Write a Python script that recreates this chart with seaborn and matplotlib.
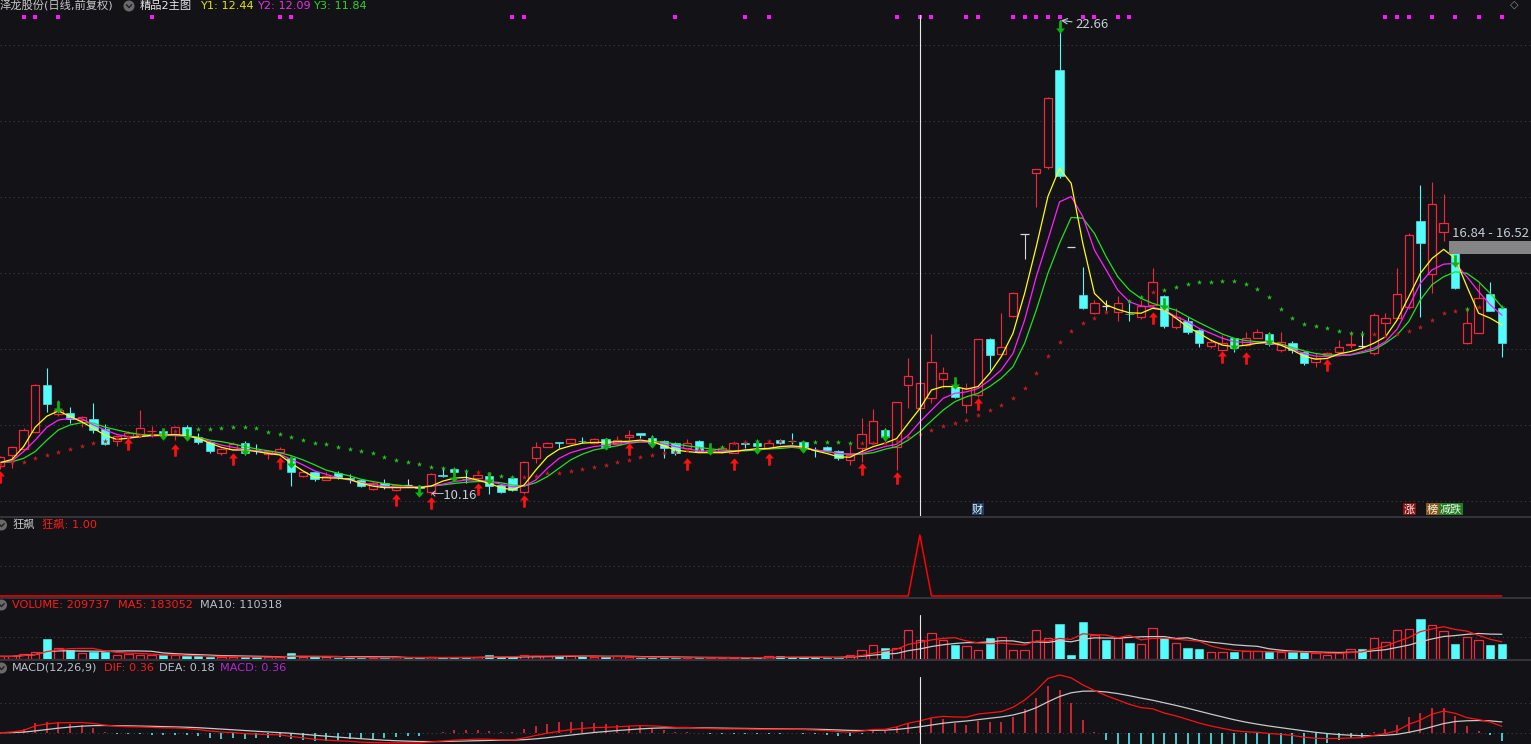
import numpy as np
import pandas as pd
import matplotlib
matplotlib.use("Agg")
import matplotlib.pyplot as plt
from matplotlib.path import Path
from matplotlib.patches import Rectangle, Ellipse
from matplotlib.lines import Line2D
import matplotlib.transforms as mtransforms
import seaborn as sns

# ---------------- data ----------------
open_ = [10.93,11.23,11.37,11.83,13.06,12.30,12.32,12.14,12.17,11.89,
         11.59,11.72,11.74,11.84,11.86,11.74,11.95,11.70,11.57,11.28,
         11.38,11.53,11.35,11.24,11.31,11.13,10.67,10.76,10.56,10.75,
         10.61,10.56,10.33,10.49,10.30,10.42,10.40,10.25,10.68,10.85,
         10.59,10.61,10.67,10.43,10.61,10.25,11.15,11.44,11.55,11.54,
         11.60,11.54,11.64,11.51,11.70,11.79,11.67,11.59,11.53,11.41,
         11.59,11.32,11.30,11.28,11.53,11.53,11.39,11.61,11.60,11.57,
         11.36,11.44,11.33,11.09,11.40,11.53,11.88,11.44,13.06,12.45,
         12.71,13.21,13.02,12.53,12.80,14.26,13.88,14.88,17.03,18.65,
         18.81,21.35,16.68,15.43,14.95,15.15,14.99,14.94,14.84,15.17,
         15.40,14.58,14.75,14.51,14.09,13.98,14.29,14.11,14.31,14.40,
         13.98,14.16,13.94,13.67,13.85,13.94,14.11,14.09,13.89,14.70,
         14.82,15.11,17.38,15.97,17.09,16.53,14.16,14.44,15.45,15.08]
high = [11.20,11.45,11.94,13.10,13.51,12.67,12.49,12.25,12.59,12.03,
        11.75,11.85,12.40,11.98,11.90,11.98,12.00,11.81,11.60,11.40,
        11.55,11.59,11.50,11.35,11.44,11.15,10.80,10.78,10.78,10.80,
        10.72,10.60,10.50,10.59,10.46,10.59,10.42,10.75,10.88,10.88,
        10.76,10.72,10.70,10.45,10.63,11.05,11.56,11.57,11.56,11.67,
        11.70,11.66,11.66,11.72,11.88,11.81,11.74,11.62,11.55,11.64,
        11.62,11.40,11.42,11.56,11.59,11.56,11.58,11.63,11.79,11.60,
        11.44,11.46,11.35,11.48,12.18,12.42,11.94,12.62,13.76,13.17,
        14.39,13.54,13.05,13.11,14.26,14.30,14.95,15.50,17.03,18.75,
        20.65,22.66,16.68,16.16,15.30,15.30,15.40,15.21,15.30,16.13,
        15.42,15.08,14.86,14.53,14.26,14.38,14.31,14.46,14.53,14.45,
        14.45,14.22,13.96,13.91,13.93,14.24,14.45,14.48,14.95,14.95,
        16.13,17.05,18.32,18.39,18.09,16.61,15.12,15.74,15.76,15.10]
low = [10.85,10.88,11.35,11.80,12.36,12.25,12.07,11.96,11.81,11.48,
       11.46,11.65,11.70,11.69,11.75,11.61,11.70,11.50,11.28,11.22,
       11.35,11.22,11.24,11.11,11.28,10.41,10.63,10.54,10.55,10.60,
       10.47,10.37,10.30,10.33,10.28,10.41,10.33,10.16,10.65,10.75,
       10.47,10.58,10.19,10.22,10.28,10.20,11.02,11.42,11.40,11.50,
       11.53,11.52,11.42,11.49,11.62,11.66,11.52,11.14,11.23,11.39,
       11.30,11.28,11.28,11.26,11.39,11.44,11.37,11.50,11.52,11.42,
       11.17,11.33,11.10,10.96,11.04,11.50,11.60,10.82,12.45,12.40,
       12.60,12.97,12.72,12.32,12.75,13.46,13.85,14.85,16.37,17.75,
       18.75,18.50,16.68,15.05,14.93,14.99,14.75,14.75,14.80,15.12,
       14.55,14.54,14.40,14.07,14.03,13.95,13.94,14.08,14.29,14.10,
       13.94,13.91,13.60,13.54,13.82,13.90,14.03,14.03,13.85,14.38,
       14.80,15.05,14.86,15.49,16.86,15.60,14.14,14.42,15.00,13.81]
close = [11.16,11.42,11.88,13.05,12.56,12.40,12.16,12.22,11.88,11.51,
         11.71,11.80,11.92,11.86,11.80,11.95,11.74,11.57,11.33,11.37,
         11.50,11.26,11.34,11.32,11.38,10.78,10.77,10.58,10.67,10.63,
         10.60,10.40,10.47,10.37,10.43,10.42,10.35,10.72,10.67,10.78,
         10.58,10.69,10.40,10.25,10.30,11.04,11.42,11.53,11.54,11.64,
         11.59,11.63,11.44,11.61,11.75,11.74,11.54,11.41,11.28,11.53,
         11.33,11.36,11.40,11.53,11.52,11.46,11.53,11.53,11.59,11.44,
         11.35,11.35,11.13,11.22,11.76,12.12,11.69,12.61,13.30,13.11,
         13.66,13.37,12.75,12.97,14.26,13.85,14.07,15.47,17.03,18.74,
         20.61,18.57,16.68,15.08,15.23,15.15,15.21,14.93,15.14,15.78,
         14.61,14.86,14.46,14.17,14.18,14.17,14.03,14.29,14.45,14.14,
         14.20,13.98,13.63,13.76,13.91,14.05,14.14,14.09,14.90,14.83,
         15.45,17.01,16.79,17.82,17.32,15.61,14.70,15.34,15.02,14.16]
volume = [25800,25800,56100,75100,216500,123400,93100,67300,75100,75100,
          44900,52700,44900,37000,37000,37000,25800,25800,19100,19100,
          19100,19100,19100,19100,19100,67300,19100,19100,14600,11200,
          11200,11200,11200,11200,14600,11200,11200,19100,11200,11200,
          11200,19100,37000,22400,19100,44900,30300,30300,25800,30300,
          25800,19100,19100,25800,19100,11200,11200,11200,11200,11200,
          11200,11200,11200,11200,11200,11200,25800,25800,14600,14600,
          14600,11200,11200,44900,93100,149200,123400,115500,321900,209737,
          283800,209700,153700,142400,97600,235500,243400,97600,97600,321900,
          227700,392600,41500,415000,265800,213100,235500,179500,164900,344300,
          227700,179500,123400,103200,78500,78500,78500,86400,86400,70700,
          70700,70700,70700,59400,41500,59400,108800,112200,227700,187300,
          321900,333100,448600,378000,310700,168200,243400,209700,157000,168200]
y1_line = [11.02,11.10,11.44,11.95,12.24,12.38,12.23,12.09,11.92,11.74,
           11.63,11.66,11.70,11.74,11.74,11.76,11.73,11.66,11.53,11.42,
           11.35,11.35,11.31,11.26,11.22,11.00,10.80,10.63,10.62,10.61,
           10.58,10.47,10.40,10.36,10.36,10.36,10.36,10.40,10.53,10.61,
           10.63,10.56,10.47,10.36,10.30,10.43,10.82,11.17,11.37,11.46,
           11.53,11.55,11.55,11.57,11.58,11.61,11.57,11.46,11.35,11.31,
           11.28,11.28,11.28,11.31,11.35,11.38,11.39,11.44,11.46,11.43,
           11.33,11.26,11.17,11.16,11.31,11.44,11.53,11.65,12.05,12.44,
           12.93,13.02,13.02,12.95,13.02,13.37,13.81,14.42,15.47,16.70,
           18.02,18.76,18.37,16.79,15.47,15.17,15.05,14.96,14.95,15.08,
           15.03,14.82,14.59,14.42,14.24,14.11,14.07,14.11,14.16,14.20,
           14.11,13.98,13.82,13.74,13.76,13.88,13.94,14.03,14.16,14.33,
           14.77,15.38,16.00,16.39,16.63,16.39,15.65,14.95,14.82,14.64]
y2_line = [11.02,11.06,11.31,11.61,11.95,12.14,12.18,12.17,12.01,11.88,
           11.76,11.70,11.70,11.72,11.73,11.74,11.72,11.66,11.57,11.48,
           11.42,11.37,11.33,11.28,11.24,11.10,10.96,10.80,10.71,10.62,
           10.56,10.49,10.44,10.40,10.38,10.38,10.38,10.40,10.45,10.52,
           10.56,10.56,10.52,10.45,10.38,10.40,10.56,10.87,11.13,11.28,
           11.37,11.44,11.48,11.53,11.55,11.57,11.56,11.51,11.44,11.38,
           11.33,11.31,11.31,11.32,11.35,11.38,11.39,11.43,11.44,11.42,
           11.35,11.31,11.26,11.24,11.26,11.35,11.44,11.50,11.74,12.09,
           12.40,12.71,12.84,12.88,12.97,13.19,13.46,13.89,14.77,15.91,
           16.88,17.88,18.02,17.49,16.61,16.09,15.56,15.25,15.14,15.11,
           15.03,14.86,14.73,14.55,14.42,14.29,14.20,14.18,14.16,14.16,
           14.11,14.00,13.89,13.82,13.81,13.83,13.86,13.94,14.03,14.20,
           14.53,15.12,15.74,16.09,16.24,16.26,15.91,15.52,15.17,14.90]
y3_line = [11.02,11.04,11.13,11.31,11.61,11.88,12.01,12.07,12.06,11.95,
           11.88,11.81,11.76,11.74,11.74,11.73,11.72,11.69,11.61,11.57,
           11.51,11.44,11.38,11.33,11.28,11.20,11.09,10.96,10.82,10.74,
           10.67,10.58,10.52,10.47,10.43,10.40,10.38,10.40,10.43,10.47,
           10.50,10.52,10.52,10.49,10.43,10.40,10.49,10.65,10.87,11.09,
           11.24,11.35,11.41,11.46,11.53,11.56,11.57,11.56,11.51,11.46,
           11.42,11.38,11.35,11.33,11.33,11.35,11.38,11.39,11.42,11.39,
           11.35,11.31,11.26,11.24,11.24,11.28,11.37,11.44,11.61,11.84,
           12.12,12.40,12.62,12.75,12.84,13.02,13.24,13.54,14.16,15.03,
           16.00,16.79,17.47,17.45,17.05,16.44,15.91,15.56,15.34,15.21,
           15.12,15.03,14.86,14.70,14.55,14.40,14.29,14.23,14.20,14.19,
           14.14,14.05,13.96,13.89,13.85,13.85,13.85,13.91,13.98,14.16,
           14.38,14.73,15.30,15.70,15.91,16.04,16.00,15.78,15.47,15.12]
nan = float("nan")
sar = [10.98,11.03,11.04,11.15,11.22,11.31,11.38,11.46,11.54,11.59,
       11.66,11.68,11.74,11.77,11.83,11.86,11.88,11.90,11.90,11.94,
       11.96,11.96,11.93,11.82,11.78,11.70,11.62,11.54,11.50,11.44,
       11.38,11.33,11.26,11.17,11.09,11.04,10.97,10.91,10.87,10.84,
       10.81,10.78,10.72,10.67,10.63,10.63,10.67,10.74,10.75,10.81,
       10.85,10.91,10.96,11.04,11.09,11.17,11.22,11.26,11.31,11.35,
       11.37,11.39,11.44,11.53,11.57,11.59,11.59,11.59,11.59,11.57,
       11.56,11.55,11.55,11.53,11.53,11.53,11.53,11.60,11.70,11.78,
       11.88,11.99,12.05,12.14,12.27,12.40,12.53,12.73,12.99,13.38,
       13.82,14.20,14.48,14.68,14.83,14.99,nan,15.27,15.38,15.52,
       15.56,15.65,15.72,15.78,15.78,15.81,15.81,15.72,15.60,15.38,
       15.05,14.83,14.67,14.61,14.55,14.49,14.44,14.39,14.39,14.36,
       14.39,14.49,14.59,14.77,14.95,15.02,15.07,15.12,nan,15.12]
sar_side = [1,1,1,1,1,1,1,1,1,1, 1,1,1,1,1,1,-1,-1,-1,-1,
            -1,-1,-1,-1,-1,-1,-1,-1,-1,-1, -1,-1,-1,-1,-1,-1,-1,-1,-1,-1,
            -1,1,-1,-1,-1,1,1,1,1,1, 1,1,1,1,1,1,1,1,1,1,
            1,1,-1,1,1,-1,1,1,1,-1, -1,-1,-1,-1,1,1,1,1,1,1,
            1,1,1,1,1,1,1,1,1,1, 1,1,1,1,1,1,0,-1,-1,1,
            -1,-1,-1,-1,-1,-1,-1,-1,-1,-1, -1,-1,-1,-1,-1,-1,-1,-1,1,1,
            1,1,1,1,1,1,-1,1,0,-1]
buy_idx = [0, 11, 15, 20, 24, 34, 37, 41, 45, 54, 59, 63, 66, 74, 77, 84, 99, 105, 107, 114]
buy_pos = [10.65, 11.50, 11.35, 11.12, 11.02, 10.03, 9.96, 10.33, 10.01, 11.37,
           10.97, 10.99, 11.12, 10.86, 10.62, 12.55, 14.83, 13.81, 13.78, 13.58]
sell_idx = [5, 14, 16, 21, 25, 36, 39, 42, 52, 56, 61, 65, 69, 76, 82, 91, 100, 106, 109, 125]
sell_pos = [12.49, 11.77, 11.74, 11.37, 11.04, 10.27, 10.67, 10.61, 11.50, 11.57,
            11.37, 11.39, 11.44, 11.74, 13.11, 22.47, 15.19, 14.14, 14.27, 16.33]
mark_idx = [2, 3, 5, 13, 24, 25, 44, 45, 58, 64, 66, 77, 79, 80, 83, 84, 87, 88, 89, 90,
            91, 93, 94, 96, 97, 119, 120, 121, 123, 125, 127, 129]
kuangbiao = [0,0,0,0,0,0,0,0,0,0, 0,0,0,0,0,0,0,0,0,0, 0,0,0,0,0,0,0,0,0,0,
             0,0,0,0,0,0,0,0,0,0, 0,0,0,0,0,0,0,0,0,0, 0,0,0,0,0,0,0,0,0,0,
             0,0,0,0,0,0,0,0,0,0, 0,0,0,0,0,0,0,0,0,1, 0,0,0,0,0,0,0,0,0,0,
             0,0,0,0,0,0,0,0,0,0, 0,0,0,0,0,0,0,0,0,0, 0,0,0,0,0,0,0,0,0,0,
             0,0,0,0,0,0,0,0,0,0]
cursor_idx = 79
high_label = (91, 22.66)
low_label = (37, 10.16)
band = (16.52, 16.84)
price_grid = [10, 12, 14, 16, 18, 20, 22]

# ---------------- style ----------------
BG = "#131216"
RED = "#f0283c"
CYAN = "#54fcfc"
WHITE = "#d8d8d8"
GRID = "#3e3e44"
sns.set_theme(style="dark", rc={"axes.facecolor": BG, "figure.facecolor": BG})
plt.rcParams["font.family"] = ["Noto Sans CJK SC", "DejaVu Sans"]
HDR_FONT = ["DejaVu Sans", "Noto Sans CJK SC"]

W, H = 1531, 744
X0, DX = 0.3, 11.64
XL = (-X0 / DX, (W - X0) / DX)

fig = plt.figure(figsize=(W / 100, H / 100), dpi=100)
fig.patch.set_facecolor(BG)


def mkax(top, bottom, ylim):
    ax = fig.add_axes([0, 1 - bottom / H, 1, (bottom - top) / H])
    ax.set_facecolor(BG)
    ax.set_xlim(*XL)
    ax.set_ylim(*ylim)
    ax.set_xticks([])
    ax.set_yticks([])
    for s in ax.spines.values():
        s.set_visible(False)
    ax.grid(False)
    return ax


def hgrid(ax, levels):
    for lv in levels:
        ax.axhline(lv, color=GRID, lw=0.8, ls=(0, (1, 3)), zorder=0.5)


o = np.array(open_); h = np.array(high); l = np.array(low); c = np.array(close)
idx = np.arange(len(c))
up = c > o
dn = c < o
fl = c == o
BW = 0.72

# ---------------- main price panel ----------------
ax = mkax(0, 517, (9.587, 23.192))
hgrid(ax, price_grid)
for mask, col in [(up, RED), (dn, CYAN), (fl, WHITE)]:
    ax.vlines(idx[mask], np.maximum(o, c)[mask], h[mask], color=col, lw=0.8, zorder=2)
    ax.vlines(idx[mask], l[mask], np.minimum(o, c)[mask], color=col, lw=0.8, zorder=2)
ax.bar(idx[up], (c - o)[up], bottom=o[up], width=BW, facecolor=BG, edgecolor=RED,
       linewidth=0.9, zorder=3)
ax.bar(idx[dn], (o - c)[dn], bottom=c[dn], width=BW, color=CYAN, edgecolor=CYAN,
       linewidth=0.4, zorder=3)
ax.hlines(c[fl], idx[fl] - BW / 2, idx[fl] + BW / 2, color=WHITE, lw=0.9, zorder=3)

sns.lineplot(x=idx, y=np.array(y3_line), ax=ax, color="#22e022", lw=0.9, legend=False, zorder=4)
sns.lineplot(x=idx, y=np.array(y2_line), ax=ax, color="#ff20ff", lw=0.9, legend=False, zorder=4)
sns.lineplot(x=idx, y=np.array(y1_line), ax=ax, color="#ffff00", lw=0.9, legend=False, zorder=4)

sar_a = np.array(sar); side = np.array(sar_side)
ax.scatter(idx[side == 1], sar_a[side == 1], marker="*", s=16, color="#c41c1c", lw=0, zorder=5)
ax.scatter(idx[side == -1], sar_a[side == -1], marker="*", s=16, color="#22c422", lw=0, zorder=5)

up_path = Path([(0, 0.5), (0.36, 0.08), (0.11, 0.08), (0.11, -0.5), (-0.11, -0.5),
                (-0.11, 0.08), (-0.36, 0.08), (0, 0.5)])
dn_path = Path([(x, -y) for x, y in up_path.vertices])
ax.scatter(buy_idx, buy_pos, marker=up_path, s=80, color="#ff1010", lw=0, zorder=6)
ax.scatter(sell_idx, sell_pos, marker=dn_path, s=80, color="#10b410", lw=0, zorder=6)

trans = mtransforms.blended_transform_factory(ax.transData, ax.transAxes)
ax.scatter(mark_idx, [1 - 17 / 517] * len(mark_idx), marker="s", s=5, color="#ff14ff",
           lw=0, transform=trans, zorder=6, clip_on=False)

ax.axvline(cursor_idx, ymin=0, ymax=1 - 15 / 517, color="#e8e8e8", lw=0.8, zorder=7)

LBL = "#c4ced8"
ax.annotate(f"{high_label[1]:.2f}", xy=high_label, xytext=(high_label[0] + 1.35, 22.55),
            color=LBL, fontsize=9.5, va="center", ha="left",
            arrowprops=dict(arrowstyle="->", color=LBL, lw=0.8, shrinkA=0, shrinkB=1))
ax.text(low_label[0] - 0.02, low_label[1], f"←{low_label[1]:.2f}", color=LBL, fontsize=9.5,
        va="center", ha="left", zorder=8)
ax.add_patch(Rectangle((124.45, band[0]), XL[1] - 124.45, band[1] - band[0],
                       facecolor="#858585", edgecolor="none", zorder=8))
ax.text(124.7, 17.06, f"{band[1]:.2f} - {band[0]:.2f}", color=LBL, fontsize=9.5,
        va="center", ha="left", zorder=8)

# ---------------- 狂飙 panel ----------------
ax2 = mkax(517, 597, (-1 / 61, 79 / 61))
hgrid(ax2, [0.5])
sns.lineplot(x=idx, y=np.array(kuangbiao, dtype=float), ax=ax2, color="#ff0000", lw=1.1,
             legend=False)

# ---------------- volume panel ----------------
vol = np.array(volume, dtype=float)
prev = np.concatenate([[c[0]], c[:-1]])
vup = up | (fl & (c >= prev))
vdn = ~vup
ax3 = mkax(597, 659, (-3365, 692000))
hgrid(ax3, [243000])
ax3.bar(idx[vup], vol[vup], width=BW, facecolor=BG, edgecolor=RED, linewidth=0.9, zorder=2)
ax3.bar(idx[vdn], vol[vdn], width=BW, color=CYAN, edgecolor=CYAN, linewidth=0.4, zorder=2)
vs = pd.Series(vol)
sns.lineplot(x=idx, y=vs.rolling(10, min_periods=1).mean().values, ax=ax3, color="#c8c8c8",
             lw=0.9, legend=False, zorder=3)
sns.lineplot(x=idx, y=vs.rolling(5, min_periods=1).mean().values, ax=ax3, color="#ff1818",
             lw=0.9, legend=False, zorder=3)
ax3.axvline(cursor_idx, ymin=0, ymax=(659 - 615) / 62, color="#e8e8e8", lw=0.8, zorder=4)

# ---------------- MACD panel ----------------
cs = pd.Series(c)
dif = cs.ewm(span=12, adjust=False).mean() - cs.ewm(span=26, adjust=False).mean()
dea = dif.ewm(span=9, adjust=False).mean()
hist = 2 * (dif - dea)
ax4 = mkax(659, 744, (-0.348, 2.268))
hgrid(ax4, [0.0, 0.91])
pos = hist.values >= 0
ax4.vlines(idx[pos], 0, hist.values[pos], color="#ff2a3a", lw=1.1, zorder=2)
ax4.vlines(idx[~pos], 0, hist.values[~pos], color=CYAN, lw=1.1, zorder=2)
sns.lineplot(x=idx, y=dea.values, ax=ax4, color="#c8c8c8", lw=0.9, legend=False, zorder=3)
sns.lineplot(x=idx, y=dif.values, ax=ax4, color="#ff1010", lw=0.9, legend=False, zorder=3)
ax4.axvline(cursor_idx, ymin=0, ymax=(744 - 677) / 85, color="#e8e8e8", lw=0.8, zorder=4)

# ---------------- separators, header texts, badges ----------------
for yy in (517, 597.5, 659.5):
    fig.add_artist(Line2D([0, 1], [1 - yy / H] * 2, color="#34343e", lw=1.4,
                          transform=fig.transFigure))


def ftxt(x, y, s, color, size=8.1, **kw):
    fig.text(x / W, 1 - y / H, s, color=color, fontsize=size, va="center", ha="left",
             family=HDR_FONT, **kw)


def icon(x, y):
    fig.add_artist(Ellipse((x / W, 1 - y / H), 11 / W, 11 / H, transform=fig.transFigure,
                           facecolor="#6a6a6a", edgecolor="none"))
    fig.add_artist(Line2D([(x - 2.6) / W, x / W, (x + 2.6) / W],
                          [1 - (y - 1.3) / H, 1 - (y + 1.6) / H, 1 - (y - 1.3) / H],
                          color="#202020", lw=1.0, transform=fig.transFigure))


ftxt(0, 6, "泽龙股份(日线,前复权)", "#c8c8c8")
icon(129, 6)
ftxt(140, 6, "精品2主图", "#e6e6e6")
ftxt(200, 6, f"Y1: {y1_line[cursor_idx]:.2f}", "#e6e600")
ftxt(257, 6, f"Y2: {y2_line[cursor_idx]:.2f}", "#e830e8")
ftxt(313, 6, f"Y3: {y3_line[cursor_idx]:.2f}", "#30d030")
ftxt(1510, 5, "◇", "#8a8a8a", size=8)

icon(1.5, 525)
ftxt(12, 525, "狂飙", "#c8c8c8")
ftxt(42, 525, f"狂飙: {kuangbiao[cursor_idx]:.2f}", "#ff1a1a")

icon(1.5, 605)
ftxt(12, 605, f"VOLUME: {volume[cursor_idx]}", "#ff1a1a")
ftxt(118, 605, "MA5: 183052", "#ff1a1a")
ftxt(200, 605, "MA10: 110318", "#b8c0cc")

icon(1.5, 668)
ftxt(12, 668, "MACD(12,26,9)", "#b8c0cc")
ftxt(104, 668, "DIF: 0.36", "#ff1a1a")
ftxt(159, 668, "DEA: 0.18", "#b8c0cc")
ftxt(220, 668, "MACD: 0.36", "#b428d8")


def badge(x0, x1, text, bg):
    fig.add_artist(Rectangle((x0 / W, 1 - 515 / H), (x1 - x0) / W, 12 / H,
                             transform=fig.transFigure, facecolor=bg, edgecolor="none"))
    fig.text((x0 + x1) / 2 / W, 1 - 509.5 / H, text, color="#f0f0f0", fontsize=8,
             va="center", ha="center")


badge(971.5, 983.5, "财", "#1c3d66")
badge(1403, 1416, "涨", "#8a1010")
badge(1426, 1439, "榜", "#8a5814")
badge(1439, 1463, "减跌", "#1e7e1e")

fig.savefig("out.png", dpi=100, facecolor=BG)
